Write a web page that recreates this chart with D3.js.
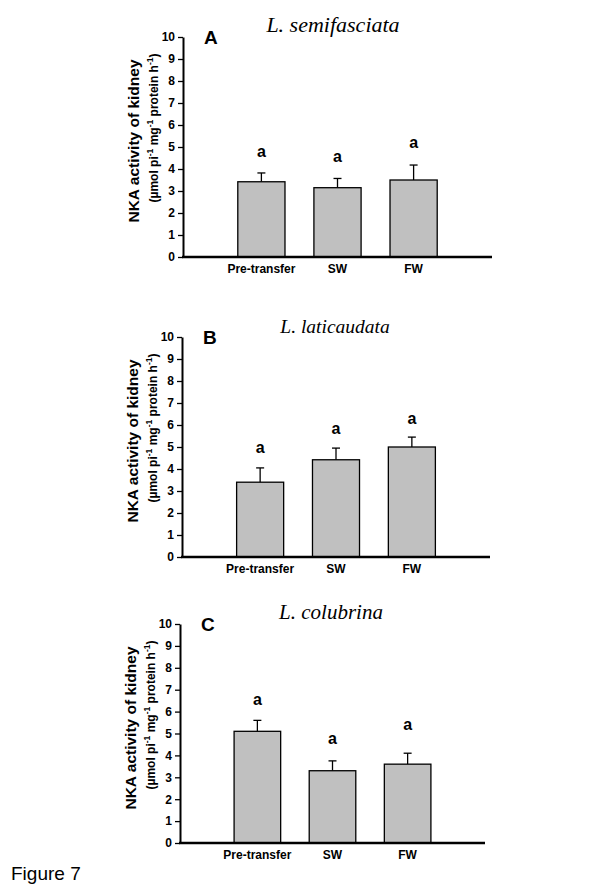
<!DOCTYPE html>
<html><head><meta charset="utf-8">
<script src="https://cdn.jsdelivr.net/npm/d3@7"></script>
<style>body{margin:0;background:#fff}</style>
</head><body>
<svg id="chart" width="615" height="890"></svg>
<script>
// ---- data ----
const categories = ["Pre-transfer", "SW", "FW"];
const yTicks = [0, 1, 2, 3, 4, 5, 6, 7, 8, 9, 10];
const panelLetters = ["A", "B", "C"];
const species = ["L. semifasciata", "L. laticaudata", "L. colubrina"];

const meansA = [3.42, 3.15, 3.50];
const errA   = [0.40, 0.42, 0.68];
const sigA   = ["a", "a", "a"];
const sigPosA = [4.79, 4.56, 5.17];

const meansB = [3.40, 4.42, 5.00];
const errB   = [0.65, 0.53, 0.45];
const sigB   = ["a", "a", "a"];
const sigPosB = [4.97, 5.83, 6.29];

const meansC = [5.10, 3.30, 3.60];
const errC   = [0.50, 0.45, 0.50];
const sigC   = ["a", "a", "a"];
const sigPosC = [6.55, 4.77, 5.38];

const yLabel1 = "NKA activity of kidney";
const figureLabel = "Figure 7";

// ---- layout ----
const layout = [
  {left: 183, right: 492, top: 37, bottom: 257, titleX: 333, titleY: 32, titleSize: 22},
  {left: 182, right: 490, top: 337, bottom: 557, titleX: 335, titleY: 333, titleSize: 19.5},
  {left: 180, right: 485, top: 624, bottom: 843, titleX: 331, titleY: 619, titleSize: 21}
];

const panels = [
  {means: meansA, err: errA, sig: sigA, sigPos: sigPosA},
  {means: meansB, err: errB, sig: sigB, sigPos: sigPosB},
  {means: meansC, err: errC, sig: sigC, sigPos: sigPosC}
];

const svg = d3.select("#chart");
const sans = "Arial, 'Liberation Sans', sans-serif";
const serif = "'Times New Roman', 'Liberation Serif', serif";

panels.forEach((p, i) => {
  const L = layout[i];
  const g = svg.append("g");
  const y = d3.scaleLinear().domain([0, 10]).range([L.bottom, L.top]);
  const x = d3.scaleBand().domain(categories).range([L.left, L.right])
    .paddingInner(0.38).paddingOuter(0.72);

  // y axis
  const ya = g.append("g").attr("transform", `translate(${L.left},0)`)
    .call(d3.axisLeft(y).tickValues(yTicks).tickSize(5).tickSizeOuter(0).tickPadding(3));
  ya.select(".domain").attr("stroke-width", 2).attr("stroke", "#000");
  ya.selectAll(".tick line").attr("stroke-width", 1.3).attr("stroke", "#000");
  ya.selectAll(".tick text").attr("font-family", sans).attr("font-size", 12)
    .attr("font-weight", "bold").attr("fill", "#000");

  const data = categories.map((c, k) => ({c, v: p.means[k], e: p.err[k], s: p.sig[k], sp: p.sigPos[k]}));
  // error bars (upper only)
  data.forEach(d => {
    const cx = x(d.c) + x.bandwidth() / 2;
    g.append("line").attr("x1", cx).attr("x2", cx)
      .attr("y1", y(d.v)).attr("y2", y(d.v + d.e))
      .attr("stroke", "#000").attr("stroke-width", 1.3);
    g.append("line").attr("x1", cx - 4).attr("x2", cx + 4)
      .attr("y1", y(d.v + d.e)).attr("y2", y(d.v + d.e))
      .attr("stroke", "#000").attr("stroke-width", 1.3);
  });
  g.selectAll("rect.bar").data(data).join("rect").attr("class", "bar")
    .attr("x", d => x(d.c)).attr("width", x.bandwidth())
    .attr("y", d => y(d.v)).attr("height", d => y(0) - y(d.v))
    .attr("fill", "#c0c0c0").attr("stroke", "#000").attr("stroke-width", 1.3);

  g.selectAll("text.sig").data(data).join("text").attr("class", "sig")
    .attr("x", d => x(d.c) + x.bandwidth() / 2).attr("y", d => y(d.sp) + 5)
    .attr("text-anchor", "middle").attr("font-family", sans).attr("font-weight", "bold")
    .attr("font-size", 16).text(d => d.s);

  // x axis line
  g.append("line").attr("x1", L.left - 1).attr("x2", L.right)
    .attr("y1", y(0)).attr("y2", y(0)).attr("stroke", "#000").attr("stroke-width", 2.5);
  g.selectAll("text.xl").data(categories).join("text").attr("class", "xl")
    .attr("x", d => x(d) + x.bandwidth() / 2).attr("y", L.bottom + 16)
    .attr("text-anchor", "middle").attr("font-family", sans).attr("font-weight", "bold")
    .attr("font-size", 12).text(d => d);

  // panel letter
  g.append("text").attr("x", L.left + 21).attr("y", L.top + 7)
    .attr("font-family", sans).attr("font-weight", "bold").attr("font-size", 19)
    .text(panelLetters[i]);
  // title
  g.append("text").attr("x", L.titleX).attr("y", L.titleY)
    .attr("text-anchor", "middle").attr("font-family", serif).attr("font-style", "italic")
    .attr("font-size", L.titleSize).text(species[i]);

  // y label
  const yl = g.append("g");
  yl.append("text").attr("transform", `translate(${L.left - 44},${L.top + 104}) rotate(-90)`)
    .attr("text-anchor", "middle").attr("font-family", sans).attr("font-weight", "bold")
    .attr("font-size", 15.5).text(yLabel1);
  const t2 = yl.append("text").attr("transform", `translate(${L.left - 25},${L.top + 91}) rotate(-90)`)
    .attr("text-anchor", "middle").attr("font-family", sans).attr("font-weight", "bold")
    .attr("font-size", 12);
  const parts = [["(µmol pi", 0], ["-1", 1], [" mg", 0], ["-1", 1], [" protein h", 0], ["-1", 1], [")", 0]];
  parts.forEach(([s, sup]) => {
    t2.append("tspan").attr("font-size", sup ? 8.5 : 12)
      .attr("baseline-shift", sup ? "super" : null)
      .text(s);
  });
});

svg.append("text").attr("x", 11).attr("y", 880).attr("font-family", sans)
  .attr("font-size", 19).text(figureLabel);
</script>
</body></html>
